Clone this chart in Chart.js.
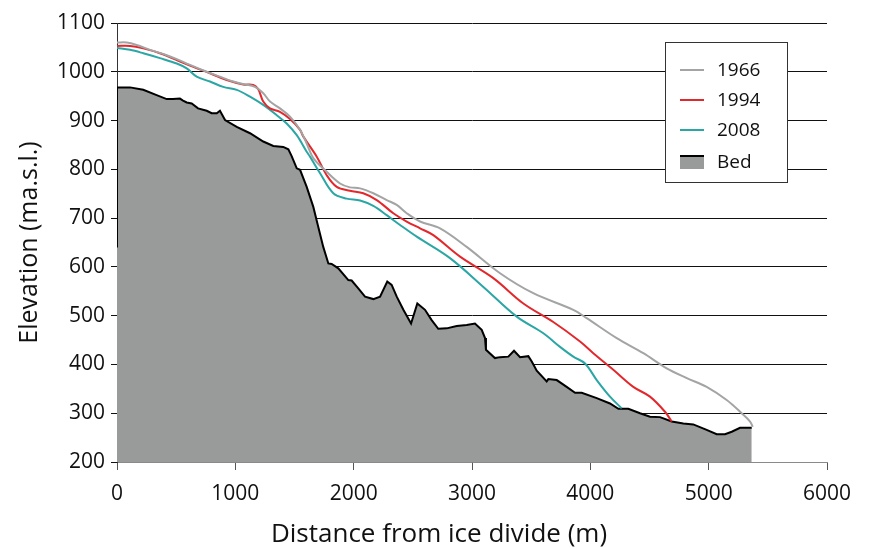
<!DOCTYPE html>
<html>
<head>
<meta charset="utf-8">
<script src="https://cdn.jsdelivr.net/npm/chart.js@4/dist/chart.umd.min.js"></script>
<style>
  html, body { margin: 0; padding: 0; background: #ffffff; }
  #wrap { width: 870px; height: 548px; position: relative; }
</style>
</head>
<body>
<div id="wrap"><canvas id="c" width="870" height="548"></canvas></div>
<script>
// Distance from ice divide (m) and elevation (m a.s.l.)
const seriesLabels = ['1966', '1994', '2008', 'Bed'];
const xTitle = 'Distance from ice divide (m)';
const yTitle = 'Elevation (ma.s.l.)';
const xTicks = [0, 1000, 2000, 3000, 4000, 5000, 6000];
const yTicks = [200, 300, 400, 500, 600, 700, 800, 900, 1000, 1100];

const x1966 = [0, 82, 166, 279, 420, 505, 617, 758, 870, 983, 1067, 1166, 1236, 1293, 1377, 1462, 1547, 1603, 1659, 1772, 1885, 1969, 2054, 2166, 2279, 2364, 2448, 2561, 2730, 2955, 3237, 3518, 3856, 3969, 4223, 4448, 4645, 4815, 4983, 5152, 5279, 5350, 5372];
const y1966 = [1060, 1060, 1055, 1045, 1034, 1026, 1014, 1000, 990, 980, 975, 969, 956, 939, 925, 908, 881, 853, 823, 795, 771, 763, 761, 751, 737, 727, 710, 693, 679, 641, 587, 546, 512, 495, 454, 423, 392, 372, 354, 327, 300, 283, 272];

const x1994 = [0, 110, 222, 363, 505, 645, 786, 927, 1067, 1152, 1194, 1236, 1293, 1377, 1462, 1547, 1575, 1688, 1772, 1857, 1969, 2081, 2195, 2335, 2448, 2561, 2673, 2899, 3180, 3434, 3687, 3913, 4025, 4194, 4363, 4504, 4631, 4688];
const y1994 = [1053, 1053, 1048, 1038, 1024, 1010, 997, 983, 974, 973, 964, 939, 925, 918, 903, 881, 867, 826, 788, 764, 756, 751, 737, 710, 693, 679, 665, 621, 577, 525, 487, 447, 423, 389, 354, 334, 303, 283];

const x2008 = [0, 110, 222, 363, 505, 589, 673, 786, 898, 1012, 1124, 1236, 1350, 1434, 1519, 1603, 1631, 1716, 1828, 1941, 2054, 2166, 2279, 2392, 2533, 2814, 3096, 3378, 3603, 3744, 3856, 3955, 4054, 4166, 4265];
const y2008 = [1049, 1045, 1038, 1028, 1017, 1007, 990, 980, 969, 963, 949, 932, 911, 894, 870, 836, 826, 792, 751, 740, 736, 725, 706, 686, 662, 618, 559, 498, 464, 436, 416, 402, 368, 334, 310];

const xBed = [0, 0, 110, 222, 335, 420, 473, 532, 558, 589, 631, 685, 758, 800, 843, 870, 913, 1012, 1124, 1236, 1321, 1405, 1448, 1476, 1519, 1547, 1603, 1659, 1701, 1743, 1786, 1814, 1870, 1955, 1983, 2039, 2096, 2166, 2223, 2284, 2321, 2364, 2420, 2485, 2538, 2603, 2659, 2715, 2786, 2871, 2955, 3025, 3082, 3110, 3118, 3194, 3237, 3307, 3355, 3406, 3476, 3505, 3547, 3631, 3645, 3716, 3800, 3871, 3927, 4054, 4166, 4237, 4321, 4420, 4504, 4589, 4688, 4786, 4870, 4983, 5068, 5138, 5195, 5265, 5364];
const yBed = [640, 968, 968, 963, 952, 944, 944, 945, 941, 937, 935, 925, 920, 915, 915, 920, 901, 887, 874, 857, 848, 846, 841, 827, 802, 799, 764, 723, 682, 641, 607, 606, 597, 573, 572, 556, 539, 534, 539, 570, 563, 539, 512, 484, 525, 512, 491, 473, 474, 479, 481, 484, 471, 454, 430, 413, 415, 416, 428, 415, 417, 406, 387, 365, 370, 368, 354, 342, 342, 331, 320, 309, 309, 300, 293, 292, 283, 279, 277, 266, 257, 257, 262, 270, 270];

const colors = ['#a3a5a4', '#e2282c', '#2aa6a5', '#000000'];
const bedFill = '#989b99';
const FONT = "'Open Sans', 'Noto Sans', sans-serif";

function pts(xs, ys) { return xs.map((x, i) => ({ x: x, y: ys[i] })); }

const legendPlugin = {
  id: 'boxLegend',
  afterDraw(chart) {
    const ctx = chart.ctx;
    const bx = 665.5, by = 42.5, bw = 122, bh = 140;
    ctx.save();
    ctx.fillStyle = '#ffffff';
    ctx.fillRect(bx, by, bw, bh);
    ctx.strokeStyle = '#333333';
    ctx.lineWidth = 1;
    ctx.strokeRect(bx, by, bw, bh);
    ctx.font = '19px ' + FONT;
    ctx.textBaseline = 'middle';
    ctx.textAlign = 'left';
    const rows = [70, 100, 130, 162];
    chart.data.datasets.forEach((ds, i) => {
      const cy = rows[i];
      if (i < 3) {
        ctx.strokeStyle = ds.borderColor;
        ctx.lineWidth = 2;
        ctx.beginPath();
        ctx.moveTo(680, cy);
        ctx.lineTo(704, cy);
        ctx.stroke();
      } else {
        ctx.fillStyle = bedFill;
        ctx.fillRect(680, cy - 6, 24, 13);
        ctx.strokeStyle = '#000000';
        ctx.lineWidth = 2;
        ctx.beginPath();
        ctx.moveTo(680, cy - 6);
        ctx.lineTo(704, cy - 6);
        ctx.stroke();
      }
      ctx.fillStyle = '#111111';
      ctx.fillText(ds.label, 717, cy + 1);
    });
    // x-axis title (offset left of centre, as in the original)
    ctx.font = '26px ' + FONT;
    ctx.textAlign = 'center';
    ctx.fillStyle = '#111111';
    ctx.fillText(xTitle, 439, 535);
    ctx.restore();
  }
};

new Chart(document.getElementById('c'), {
  type: 'line',
  data: {
    datasets: [
      { label: seriesLabels[0], data: pts(x1966, y1966), borderColor: colors[0], borderWidth: 2, pointRadius: 0, tension: 0.35, fill: false, order: 1 },
      { label: seriesLabels[1], data: pts(x1994, y1994), borderColor: colors[1], borderWidth: 2, pointRadius: 0, tension: 0.35, fill: false, order: 1 },
      { label: seriesLabels[2], data: pts(x2008, y2008), borderColor: colors[2], borderWidth: 2, pointRadius: 0, tension: 0.35, fill: false, order: 1 },
      { label: seriesLabels[3], data: pts(xBed, yBed), borderColor: colors[3], backgroundColor: bedFill, borderWidth: 2, pointRadius: 0, tension: 0, fill: 'start', order: 2 }
    ]
  },
  options: {
    responsive: false,
    animation: false,
    devicePixelRatio: 1,
    layout: { padding: { top: 23, right: 43, bottom: 0, left: 0 } },
    plugins: { legend: { display: false }, tooltip: { enabled: false } },
    scales: {
      x: {
        type: 'linear',
        min: 0, max: 6000,
        afterBuildTicks(scale) { scale.ticks = xTicks.map(v => ({ value: v })); },
        afterFit(scale) { scale.height = 86; },
        grid: { display: true, drawOnChartArea: false, drawTicks: true, tickLength: 8, color: '#555555' },
        border: { color: '#8a8a8a', width: 1 },
        ticks: { color: '#111111', font: { family: FONT, size: 21 }, padding: 11, maxRotation: 0, callback: v => String(v) },
        title: { display: false }
      },
      y: {
        type: 'linear',
        min: 200, max: 1100,
        afterBuildTicks(scale) { scale.ticks = yTicks.map(v => ({ value: v })); },
        afterFit(scale) { scale.width = 117; },
        grid: { display: true, drawTicks: true, tickLength: 6, color: '#111111', lineWidth: 1 },
        border: { color: '#333333', width: 1 },
        ticks: { color: '#111111', font: { family: FONT, size: 21 }, padding: 6, callback: v => String(v) },
        title: { display: true, text: yTitle, color: '#111111', font: { family: FONT, size: 25 }, padding: { top: 15, bottom: 0 } }
      }
    }
  },
  plugins: [legendPlugin]
});
</script>
</body>
</html>
